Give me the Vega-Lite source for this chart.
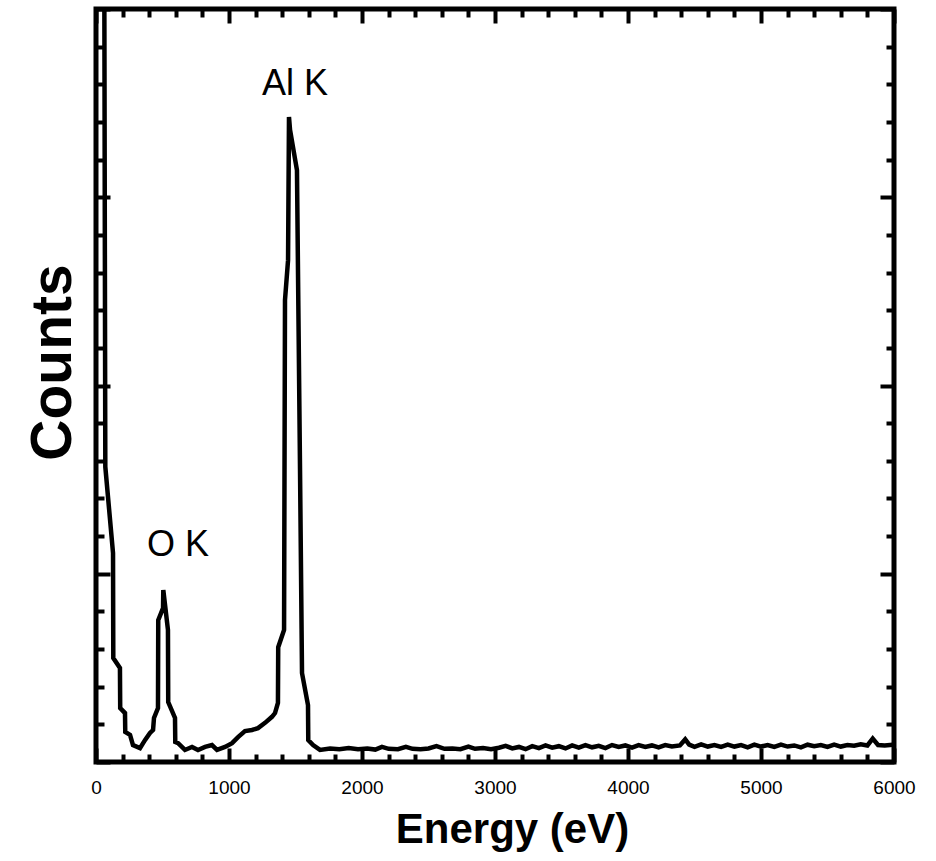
{
  "$schema": "https://vega.github.io/schema/vega-lite/v6.json",
  "width": 798,
  "height": 753,
  "autosize": "none",
  "padding": {"left": 96, "top": 9, "right": 42, "bottom": 99},
  "background": "white",
  "config": {
    "view": {"stroke": "black", "strokeWidth": 5},
    "font": "Liberation Sans"
  },
  "layer": [
    {
      "data": {"values": [
        {"i":0,"E":60,"C":25},{"i":1,"E":70,"C":7.84},{"i":2,"E":128,"C":5.55},{"i":3,"E":130,"C":2.76},
        {"i":4,"E":180,"C":2.5},{"i":5,"E":182,"C":1.43},{"i":6,"E":218,"C":1.3},{"i":7,"E":220,"C":0.8},
        {"i":8,"E":256,"C":0.72},{"i":9,"E":278,"C":0.45},{"i":10,"E":331,"C":0.37},{"i":11,"E":368,"C":0.58},
        {"i":12,"E":406,"C":0.77},{"i":13,"E":429,"C":0.85},{"i":14,"E":436,"C":1.17},{"i":15,"E":466,"C":1.43},
        {"i":16,"E":468,"C":3.77},{"i":17,"E":504,"C":4.09},{"i":18,"E":506,"C":4.57},{"i":19,"E":541,"C":3.51},
        {"i":20,"E":543,"C":1.59},{"i":21,"E":594,"C":1.17},{"i":22,"E":596,"C":0.53},{"i":23,"E":617,"C":0.5},
        {"i":24,"E":669,"C":0.32},{"i":25,"E":722,"C":0.4},{"i":26,"E":767,"C":0.32},{"i":27,"E":820,"C":0.4},
        {"i":28,"E":872,"C":0.45},{"i":29,"E":910,"C":0.32},{"i":30,"E":970,"C":0.4},{"i":31,"E":1023,"C":0.5},
        {"i":32,"E":1068,"C":0.66},{"i":33,"E":1120,"C":0.82},{"i":34,"E":1173,"C":0.85},{"i":35,"E":1218,"C":0.9},
        {"i":36,"E":1271,"C":1.04},{"i":37,"E":1323,"C":1.2},{"i":38,"E":1346,"C":1.3},{"i":39,"E":1368,"C":1.57},
        {"i":40,"E":1370,"C":3.05},{"i":41,"E":1414,"C":3.51},{"i":42,"E":1421,"C":12.27},{"i":43,"E":1444,"C":13.33},
        {"i":44,"E":1451,"C":17.13},{"i":45,"E":1459,"C":16.79},{"i":46,"E":1511,"C":15.72},{"i":47,"E":1534,"C":7.76},
        {"i":48,"E":1549,"C":2.36},{"i":49,"E":1594,"C":1.51},{"i":50,"E":1596,"C":0.58},{"i":51,"E":1632,"C":0.45},
        {"i":52,"E":1684,"C":0.32},{"i":53,"E":1760,"C":0.36},{"i":54,"E":1830,"C":0.34},{"i":55,"E":1900,"C":0.37},
        {"i":56,"E":1970,"C":0.34},{"i":57,"E":2040,"C":0.36},{"i":58,"E":2100,"C":0.33},{"i":59,"E":2150,"C":0.4},
        {"i":60,"E":2200,"C":0.35},{"i":61,"E":2270,"C":0.34},{"i":62,"E":2330,"C":0.4},{"i":63,"E":2380,"C":0.35},
        {"i":64,"E":2440,"C":0.34},{"i":65,"E":2500,"C":0.36},{"i":66,"E":2560,"C":0.42},{"i":67,"E":2620,"C":0.35},
        {"i":68,"E":2680,"C":0.36},{"i":69,"E":2740,"C":0.34},{"i":70,"E":2800,"C":0.41},{"i":71,"E":2850,"C":0.35},
        {"i":72,"E":2910,"C":0.37},{"i":73,"E":2970,"C":0.34},{"i":74,"E":3030,"C":0.38},{"i":75,"E":3080,"C":0.43},
        {"i":76,"E":3130,"C":0.36},{"i":77,"E":3180,"C":0.4},{"i":78,"E":3230,"C":0.34},{"i":79,"E":3280,"C":0.42},
        {"i":80,"E":3330,"C":0.37},{"i":81,"E":3380,"C":0.44},{"i":82,"E":3430,"C":0.38},{"i":83,"E":3480,"C":0.42},
        {"i":84,"E":3530,"C":0.36},{"i":85,"E":3580,"C":0.44},{"i":86,"E":3630,"C":0.38},{"i":87,"E":3680,"C":0.45},
        {"i":88,"E":3730,"C":0.39},{"i":89,"E":3780,"C":0.43},{"i":90,"E":3830,"C":0.37},{"i":91,"E":3880,"C":0.45},
        {"i":92,"E":3930,"C":0.4},{"i":93,"E":3980,"C":0.44},{"i":94,"E":4030,"C":0.38},{"i":95,"E":4080,"C":0.45},
        {"i":96,"E":4130,"C":0.4},{"i":97,"E":4180,"C":0.44},{"i":98,"E":4230,"C":0.39},{"i":99,"E":4280,"C":0.45},
        {"i":100,"E":4330,"C":0.41},{"i":101,"E":4390,"C":0.44},{"i":102,"E":4430,"C":0.6},{"i":103,"E":4460,"C":0.46},
        {"i":104,"E":4500,"C":0.4},{"i":105,"E":4550,"C":0.47},{"i":106,"E":4600,"C":0.41},{"i":107,"E":4650,"C":0.45},
        {"i":108,"E":4700,"C":0.4},{"i":109,"E":4750,"C":0.46},{"i":110,"E":4800,"C":0.41},{"i":111,"E":4850,"C":0.45},
        {"i":112,"E":4900,"C":0.39},{"i":113,"E":4950,"C":0.46},{"i":114,"E":5000,"C":0.41},{"i":115,"E":5050,"C":0.45},
        {"i":116,"E":5100,"C":0.4},{"i":117,"E":5150,"C":0.46},{"i":118,"E":5200,"C":0.41},{"i":119,"E":5250,"C":0.44},
        {"i":120,"E":5300,"C":0.39},{"i":121,"E":5350,"C":0.46},{"i":122,"E":5400,"C":0.42},{"i":123,"E":5450,"C":0.45},
        {"i":124,"E":5500,"C":0.4},{"i":125,"E":5550,"C":0.46},{"i":126,"E":5600,"C":0.41},{"i":127,"E":5650,"C":0.45},
        {"i":128,"E":5700,"C":0.43},{"i":129,"E":5750,"C":0.47},{"i":130,"E":5800,"C":0.44},{"i":131,"E":5840,"C":0.62},
        {"i":132,"E":5880,"C":0.45},{"i":133,"E":5930,"C":0.44},{"i":134,"E":5990,"C":0.46}
      ]},
      "mark": {"type": "line", "color": "black", "strokeWidth": 4.5, "clip": true, "strokeJoin": "miter"},
      "encoding": {
        "x": {
          "field": "E", "type": "quantitative",
          "scale": {"domain": [0, 6000], "nice": false, "zero": false},
          "axis": {
            "orient": "bottom",
            "values": [0,200,400,600,800,1000,1200,1400,1600,1800,2000,2200,2400,2600,2800,3000,3200,3400,3600,3800,4000,4200,4400,4600,4800,5000,5200,5400,5600,5800,6000],
            "tickSize": {"condition": {"test": "datum.value % 1000 === 0", "value": -14}, "value": -8},
            "tickWidth": 4, "tickColor": "black",
            "domain": false, "grid": false,
            "format": "d",
            "labelExpr": "datum.value % 1000 === 0 ? datum.label : ''",
            "labelFlush": false, "labelOverlap": false, "labelBound": false,
            "labelFont": "Liberation Sans", "labelFontSize": 19, "labelColor": "black",
            "labelPadding": 30,
            "title": "Energy (eV)",
            "titleFont": "Liberation Sans", "titleFontSize": 42, "titleFontWeight": "bold", "titleColor": "black",
            "titleX": 416, "titlePadding": 6
          }
        },
        "y": {
          "field": "C", "type": "quantitative",
          "scale": {"domain": [0, 20], "nice": false, "zero": false},
          "axis": {
            "orient": "left",
            "values": [0,1,2,3,4,5,6,7,8,9,10,11,12,13,14,15,16,17,18,19,20],
            "tickSize": {"condition": {"test": "datum.value % 5 === 0", "value": -14}, "value": -8},
            "tickWidth": 4, "tickColor": "black",
            "domain": false, "grid": false, "labels": false,
            "title": "Counts",
            "titleFont": "Liberation Sans", "titleFontSize": 57, "titleFontWeight": "bold", "titleColor": "black",
            "titleY": 353, "titleX": -14, "titleAngle": 270, "titleBaseline": "bottom"
          }
        },
        "order": {"field": "i", "type": "quantitative"}
      }
    },
    {
      "data": {"values": [
        {"E": 1496, "C": 18.0, "t": "Al K"},
        {"E": 617, "C": 5.76, "t": "O K"}
      ]},
      "mark": {"type": "text", "fontSize": 36, "font": "Liberation Sans", "color": "black", "baseline": "middle", "align": "center"},
      "encoding": {
        "x": {
          "field": "E", "type": "quantitative",
          "axis": {
            "orient": "top",
            "values": [0,200,400,600,800,1000,1200,1400,1600,1800,2000,2200,2400,2600,2800,3000,3200,3400,3600,3800,4000,4200,4400,4600,4800,5000,5200,5400,5600,5800,6000],
            "tickSize": {"condition": {"test": "datum.value % 1000 === 0", "value": -14}, "value": -8},
            "tickWidth": 4, "tickColor": "black",
            "domain": false, "grid": false, "labels": false, "title": null
          }
        },
        "y": {
          "field": "C", "type": "quantitative",
          "axis": {
            "orient": "right",
            "values": [0,1,2,3,4,5,6,7,8,9,10,11,12,13,14,15,16,17,18,19,20],
            "tickSize": {"condition": {"test": "datum.value % 5 === 0", "value": -14}, "value": -8},
            "tickWidth": 4, "tickColor": "black",
            "domain": false, "grid": false, "labels": false, "title": null
          }
        },
        "text": {"field": "t", "type": "nominal"}
      }
    }
  ],
  "resolve": {"axis": {"x": "independent", "y": "independent"}}
}
